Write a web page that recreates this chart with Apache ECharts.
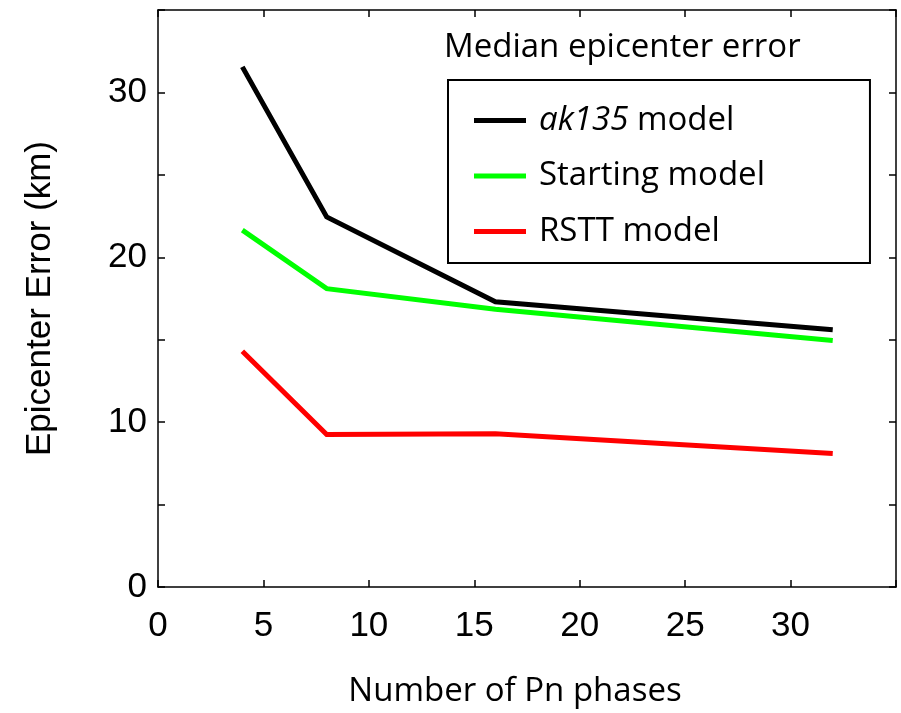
<!DOCTYPE html>
<html>
<head>
<meta charset="utf-8">
<script src="https://cdn.jsdelivr.net/npm/echarts@6/dist/echarts.min.js"></script>
<style>html,body{margin:0;padding:0;background:#fff;}#c{width:901px;height:713px;}</style>
</head>
<body>
<div id="c"></div>
<script>
const xValues = [4, 8, 16, 32];
const ak135 = [31.55, 22.45, 17.3, 15.6];
const starting = [21.65, 18.1, 16.85, 14.95];
const rstt = [14.3, 9.25, 9.3, 8.1];
const seriesNames = ['ak135 model', 'Starting model', 'RSTT model'];
const seriesColors = ['#000000', '#00ff00', '#ff0000'];
const legendTitle = 'Median epicenter error';
const xTitle = 'Number of Pn phases';
const yTitle = 'Epicenter Error (km)';

const chart = echarts.init(document.getElementById('c'));
const pairs = v => xValues.map((x, i) => [x, v[i]]);
const allData = [ak135, starting, rstt];
const tickFont = () => ({fontFamily: 'Liberation Sans', fontSize: 35, color: '#000'});
const axisLine = () => ({show: true, onZero: false, lineStyle: {color: '#000', width: 1.5}});
const tick = () => ({show: true, inside: true, length: 7, lineStyle: {color: '#000', width: 1.5}});

chart.setOption({
  animation: false,
  backgroundColor: '#fff',
  grid: {left: 158, right: 5, top: 10, bottom: 126, containLabel: false},
  title: {
    text: legendTitle, left: 439, top: 26,
    textStyle: {fontFamily: 'Open Sans', fontSize: 33, fontWeight: 'normal', color: '#000'}
  },
  legend: {
    orient: 'vertical', left: 448, top: 80,
    data: seriesNames, icon: 'rect', itemWidth: 52, itemHeight: 5, itemGap: 22.5,
    padding: [24, 105, 15, 26], borderColor: '#000', borderWidth: 2,
    formatter: n => n === 'ak135 model' ? '{i|ak135} model' : n,
    textStyle: {
      fontFamily: 'Open Sans', fontSize: 33, color: '#000', padding: [0, 0, 0, 8],
      rich: {i: {fontFamily: 'Open Sans', fontSize: 33, fontStyle: 'italic', color: '#000'}}
    }
  },
  xAxis: [{
    type: 'value', min: 0, max: 35, interval: 5, position: 'bottom',
    name: xTitle, nameLocation: 'middle', nameGap: 88,
    nameTextStyle: {fontFamily: 'Open Sans', fontSize: 33, color: '#000', padding: [0, 24, 0, 0]},
    axisLine: axisLine(), axisTick: tick(), splitLine: {show: false},
    axisLabel: Object.assign({margin: 22, formatter: v => v === 35 ? '' : String(v)}, tickFont())
  }, {
    type: 'value', min: 0, max: 35, interval: 5, position: 'top',
    axisLine: axisLine(), axisTick: tick(), splitLine: {show: false}, axisLabel: {show: false}
  }],
  yAxis: [{
    type: 'value', min: 0, max: 35, interval: 5, position: 'left',
    name: yTitle, nameLocation: 'middle', nameGap: 100,
    nameTextStyle: {fontFamily: 'Liberation Sans', fontSize: 35, color: '#000'},
    axisLine: axisLine(), axisTick: tick(), splitLine: {show: false},
    axisLabel: Object.assign({margin: 11, formatter: v => v % 10 === 0 ? String(v) : ''}, tickFont())
  }, {
    type: 'value', min: 0, max: 35, interval: 5, position: 'right',
    axisLine: axisLine(), axisTick: tick(), splitLine: {show: false}, axisLabel: {show: false}
  }],
  series: seriesNames.map((n, i) => ({
    name: n, type: 'line', data: pairs(allData[i]), showSymbol: false, symbol: 'none',
    lineStyle: {color: seriesColors[i], width: 5, join: 'miter'}, itemStyle: {color: seriesColors[i]},
    xAxisIndex: 0, yAxisIndex: 0
  }))
});
</script>
</body>
</html>
